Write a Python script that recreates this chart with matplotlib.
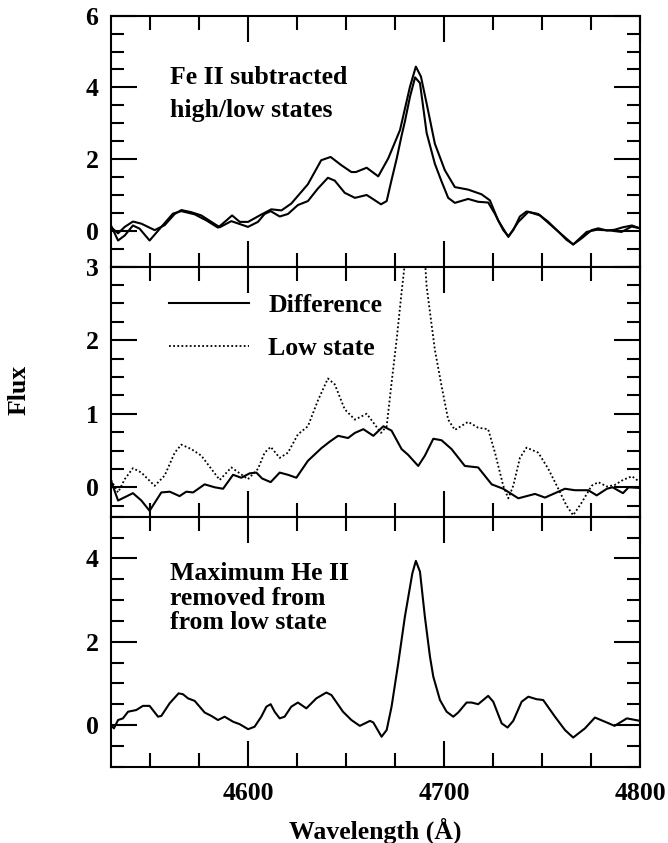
import numpy as np
import matplotlib
matplotlib.use("Agg")
import matplotlib.pyplot as plt
from matplotlib.ticker import MultipleLocator

plt.rcParams['font.family'] = ['Liberation Serif', 'DejaVu Serif']
plt.rcParams['font.weight'] = 'bold'

# Top panel: Fe II subtracted high state
wl_high = [4530, 4533.6, 4537, 4541.2, 4544.6, 4549.7, 4555.7, 4561.6, 4565.9, 4572.7,
           4578.7, 4584.6, 4588.9, 4591.8, 4595.7, 4600, 4605.9, 4611.8, 4617, 4622,
           4630.5, 4637.3, 4642.1, 4647.6, 4652.7, 4655, 4660.5, 4666.4, 4671.5, 4677.5,
           4682.6, 4685.6, 4688.2, 4691.1, 4695.3, 4700.4, 4705.5, 4712.3, 4719.1, 4723.4,
           4727.6, 4732.8, 4737.9, 4743, 4748.9, 4756.6, 4765.9, 4772.8, 4777.9, 4784.7,
           4790.6, 4795.7, 4800]
flux_high = [0.15, -0.27, -0.13, 0.15, 0.06, -0.27, 0.11, 0.48, 0.55, 0.46,
             0.29, 0.09, 0.29, 0.43, 0.25, 0.25, 0.43, 0.60, 0.57, 0.76,
             1.30, 1.97, 2.06, 1.83, 1.64, 1.64, 1.76, 1.52, 2.02, 2.81,
             4.02, 4.58, 4.30, 3.55, 2.43, 1.69, 1.22, 1.15, 1.02, 0.85,
             0.29, -0.17, 0.25, 0.53, 0.43, 0.06, -0.38, -0.03, 0.03, 0.01,
             -0.03, 0.12, 0.07]

# Fe II subtracted low state (top panel, dotted in middle panel)
wl_low = [4530, 4533.6, 4537, 4541.2, 4545.5, 4552.3, 4557.4, 4562.5, 4565.9, 4571,
          4576.1, 4581.2, 4585.5, 4591.4, 4595.7, 4599.9, 4605, 4608.4, 4611.5, 4616.1,
          4620.3, 4625.4, 4630.5, 4635.6, 4640.7, 4644.2, 4649.3, 4654.5, 4660.5, 4663.9,
          4667.8, 4670.7, 4673.2, 4675.8, 4678.3, 4680, 4682.6, 4685.2, 4687.7, 4690.2,
          4691.1, 4695.3, 4698.7, 4702.1, 4705.5, 4712.3, 4717.4, 4722.5, 4726, 4730.2,
          4732.8, 4735.3, 4738.7, 4742.1, 4748.1, 4753.2, 4758.3, 4762.5, 4765.9, 4770.2,
          4775.3, 4778.7, 4783.1, 4787, 4791.3, 4795.9, 4800]
flux_low = [0.10, -0.07, 0.11, 0.26, 0.20, 0.02, 0.16, 0.47, 0.58, 0.52,
            0.43, 0.25, 0.10, 0.27, 0.19, 0.11, 0.25, 0.47, 0.55, 0.40,
            0.47, 0.72, 0.83, 1.18, 1.48, 1.40, 1.06, 0.92, 1.00, 0.88,
            0.74, 0.83, 1.42, 2.01, 2.65, 3.05, 3.74, 4.28, 4.12, 3.10,
            2.73, 1.87, 1.38, 0.92, 0.78, 0.89, 0.81, 0.79, 0.47, 0.02,
            -0.15, 0.02, 0.40, 0.54, 0.47, 0.25, -0.02, -0.25, -0.38, -0.21,
            0.02, 0.07, 0.01, 0.03, 0.10, 0.15, 0.07]

# Middle panel: difference high - low
wl_diff = [4530, 4533.6, 4541.2, 4545.5, 4549.7, 4555.7, 4560, 4565, 4568.4, 4571.9,
           4577.8, 4582.9, 4587.2, 4592.3, 4596.5, 4600.8, 4604.2, 4607.1, 4611.5, 4616.1,
           4620.3, 4624.6, 4630.5, 4637.3, 4641.6, 4645.9, 4651, 4654.5, 4658.8, 4663.9,
           4669, 4673.2, 4678.3, 4681.7, 4686.8, 4690.2, 4694.5, 4698.7, 4703.8, 4710.6,
           4717.4, 4724.3, 4730.2, 4737.9, 4746.4, 4751.5, 4761.7, 4766.8, 4773.6, 4777.9,
           4783.1, 4786, 4791.3, 4794.2, 4800]
flux_diff = [0.09, -0.18, -0.08, -0.18, -0.32, -0.07, -0.06, -0.12, -0.06, -0.07,
             0.04, 0.00, -0.02, 0.17, 0.13, 0.19, 0.20, 0.12, 0.07, 0.20,
             0.17, 0.13, 0.36, 0.53, 0.62, 0.70, 0.67, 0.74, 0.79, 0.70,
             0.83, 0.77, 0.52, 0.44, 0.29, 0.43, 0.66, 0.64, 0.52, 0.29,
             0.27, 0.04, -0.02, -0.15, -0.09, -0.14, -0.02, -0.04, -0.04, -0.11,
             -0.02, 0.00, -0.08, 0.00, -0.01]

# Bottom panel: maximum He II removed from low state
wl_resid = [4530, 4531.5, 4533.6, 4536.1, 4538.7, 4542.9, 4546.3, 4549.7, 4554, 4555.7,
            4559.9, 4564.5, 4566.7, 4569.3, 4572.7, 4577.8, 4581.2, 4584.6, 4588, 4592.3,
            4595.7, 4600, 4603.3, 4606.7, 4609.3, 4611.5, 4613.5, 4616.1, 4618.6, 4622,
            4625.4, 4629.7, 4634.8, 4639.9, 4642.5, 4648.4, 4652.7, 4657, 4662.2, 4663.9,
            4668.1, 4670.7, 4673.2, 4676.6, 4680, 4683.8, 4685.6, 4687.7, 4690.2, 4692.8,
            4694.5, 4697.9, 4701.3, 4704.7, 4707.2, 4711.5, 4714, 4717.4, 4722.5, 4725.1,
            4729.4, 4732.4, 4735.3, 4739.6, 4743, 4747.2, 4750.6, 4756.6, 4761.7, 4765.9,
            4771.9, 4777, 4783.1, 4787, 4793.3, 4800]
flux_resid = [0.00, -0.08, 0.12, 0.16, 0.32, 0.36, 0.46, 0.46, 0.20, 0.22,
              0.52, 0.76, 0.74, 0.64, 0.58, 0.30, 0.22, 0.12, 0.20, 0.08,
              0.02, -0.10, -0.04, 0.20, 0.44, 0.50, 0.32, 0.16, 0.20, 0.44,
              0.54, 0.40, 0.64, 0.78, 0.72, 0.32, 0.12, -0.02, 0.10, 0.06,
              -0.28, -0.12, 0.44, 1.48, 2.60, 3.64, 3.94, 3.68, 2.60, 1.64,
              1.16, 0.60, 0.32, 0.20, 0.30, 0.54, 0.54, 0.50, 0.70, 0.56,
              0.04, -0.06, 0.10, 0.56, 0.68, 0.62, 0.60, 0.20, -0.12, -0.30,
              -0.08, 0.18, 0.06, -0.02, 0.16, 0.10]

W, H = 668, 843
fig = plt.figure(figsize=(W / 100, H / 100), dpi=100)

left, width = 111 / W, 529 / W
ax_top = fig.add_axes([left, (H - 266.7) / H, width, 251 / H])
ax_mid = fig.add_axes([left, (H - 516.7) / H, width, 250 / H])
ax_bot = fig.add_axes([left, (H - 766.7) / H, width, 250 / H])

fs = 18.5
lw = 1.5
for ax in (ax_top, ax_mid, ax_bot):
    ax.set_xlim(4530, 4800)
    ax.xaxis.set_major_locator(MultipleLocator(100))
    ax.xaxis.set_minor_locator(MultipleLocator(25))
    ax.tick_params(which='both', direction='in', top=True, right=True, width=1.5)
    ax.tick_params(axis='x', which='major', length=19, pad=11)
    ax.tick_params(axis='x', which='minor', length=10)
    ax.tick_params(axis='y', which='major', length=18.5, pad=9)
    ax.tick_params(axis='y', which='minor', length=9.5)
    ax.tick_params(labelsize=fs)
    for s in ax.spines.values():
        s.set_linewidth(1.5)
    if ax is not ax_bot:
        ax.tick_params(axis='x', labelbottom=False)

# top panel
ax_top.plot(wl_high, flux_high, color='black', lw=lw)
ax_top.plot(wl_low, flux_low, color='black', lw=lw)
ax_top.set_ylim(-1, 6)
ax_top.yaxis.set_major_locator(MultipleLocator(2))
ax_top.yaxis.set_minor_locator(MultipleLocator(0.5))
ax_top.text(0.111, 0.728, 'Fe II subtracted', transform=ax_top.transAxes,
            fontsize=fs, fontweight='bold', va='baseline')
ax_top.text(0.111, 0.596, 'high/low states', transform=ax_top.transAxes,
            fontsize=fs, fontweight='bold', va='baseline')

# middle panel
ax_mid.plot(wl_diff, flux_diff, color='black', lw=lw, label='Difference')
ax_mid.plot(wl_low, flux_low, color='black', lw=1.3, linestyle=(0, (1, 1.3)),
            label='Low state')
ax_mid.set_ylim(-0.4, 3)
ax_mid.yaxis.set_major_locator(MultipleLocator(1))
ax_mid.yaxis.set_minor_locator(MultipleLocator(0.25))
leg = ax_mid.legend(loc='upper left', bbox_to_anchor=(0.11, 0.89), frameon=False,
                    fontsize=fs, handlelength=3.1, handletextpad=0.75,
                    labelspacing=0.78, borderpad=0, borderaxespad=0)

# bottom panel
ax_bot.plot(wl_resid, flux_resid, color='black', lw=lw)
ax_bot.set_ylim(-1, 5)
ax_bot.yaxis.set_major_locator(MultipleLocator(2))
ax_bot.yaxis.set_minor_locator(MultipleLocator(0.5))
for txt, yb in [('Maximum He II', 0.747), ('removed from', 0.647), ('from low state', 0.550)]:
    ax_bot.text(0.111, yb, txt, transform=ax_bot.transAxes,
                fontsize=fs, fontweight='bold', va='baseline')

fig.text(375.5 / W, (H - 831) / H, 'Wavelength (Å)', fontsize=fs, fontweight='bold',
         ha='center', va='center')
fig.text(19 / W, (H - 390) / H, 'Flux', fontsize=fs, fontweight='bold',
         ha='center', va='center', rotation=90)

fig.savefig('out.png', dpi=100)
